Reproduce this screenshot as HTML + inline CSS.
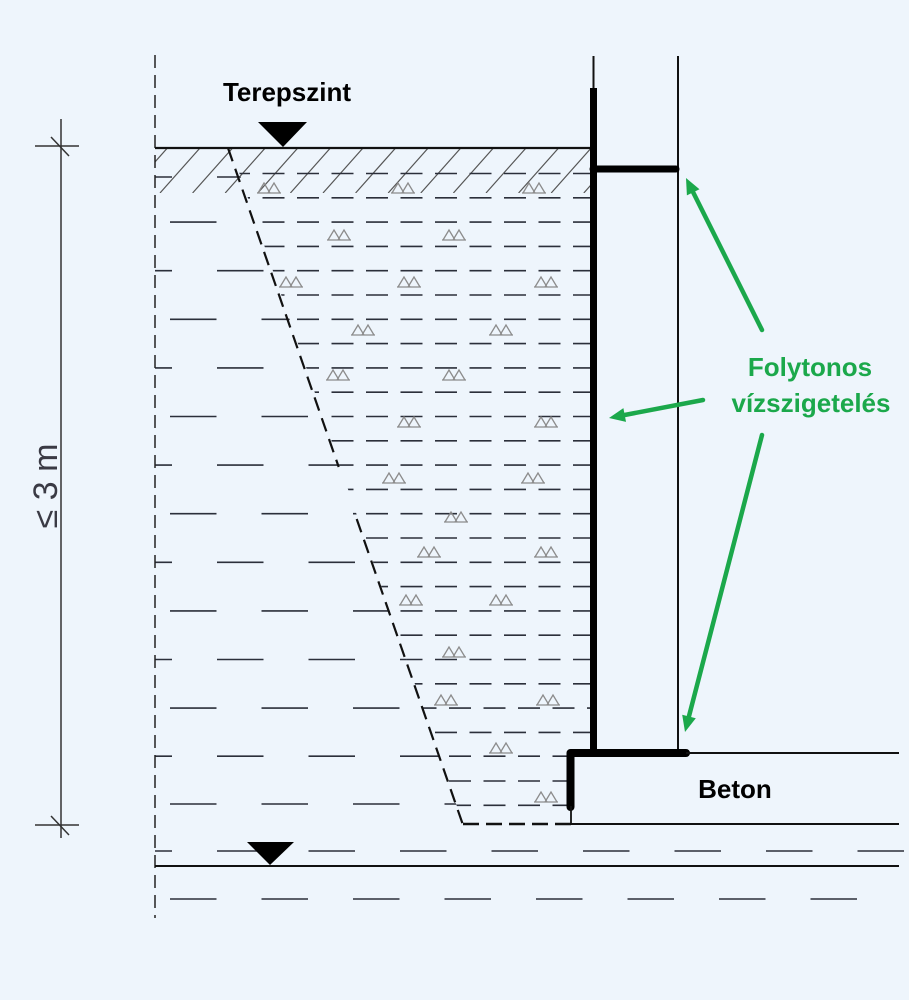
<!DOCTYPE html>
<html><head><meta charset="utf-8"><style>
html,body{margin:0;padding:0;background:#eef5fc;}
svg{display:block;}
</style></head><body>
<svg width="909" height="1000" viewBox="0 0 909 1000" xmlns="http://www.w3.org/2000/svg">
<defs>
<clipPath id="inner"><polygon points="228,140 591,140 591,749 567,749 567,824 463,824"/></clipPath>
<clipPath id="left"><polygon points="155,140 228,140 463,824 155,824"/></clipPath>
<clipPath id="hatch"><rect x="155" y="148" width="437" height="45"/></clipPath>
<g id="aa"><path d="M0,10 L6,0 L12,10 M10,10 L16,0 L22,10 M-1,10 H23" fill="none" stroke="#8c8c8c" stroke-width="1.3"/></g>
</defs>
<rect width="909" height="1000" fill="#eef5fc"/>

<!-- hatch -->
<g clip-path="url(#hatch)" stroke="#555" stroke-width="1.2">
<line x1="167.4" y1="148" x2="127.4" y2="193"/>
<line x1="200" y1="148" x2="160" y2="193"/>
<line x1="232.6" y1="148" x2="192.6" y2="193"/>
<line x1="265.2" y1="148" x2="225.2" y2="193"/>
<line x1="297.8" y1="148" x2="257.8" y2="193"/>
<line x1="330.4" y1="148" x2="290.4" y2="193"/>
<line x1="363" y1="148" x2="323" y2="193"/>
<line x1="395.6" y1="148" x2="355.6" y2="193"/>
<line x1="428.2" y1="148" x2="388.2" y2="193"/>
<line x1="460.8" y1="148" x2="420.8" y2="193"/>
<line x1="493.4" y1="148" x2="453.4" y2="193"/>
<line x1="526" y1="148" x2="486" y2="193"/>
<line x1="558.6" y1="148" x2="518.6" y2="193"/>
<line x1="591.2" y1="148" x2="551.2" y2="193"/>
<line x1="623.8" y1="148" x2="583.8" y2="193"/>
</g>

<!-- inner short dashes -->
<g clip-path="url(#inner)" stroke="#2b2f3a" stroke-width="1.6" stroke-dasharray="22 12.5">
<line x1="21" y1="173.5" x2="592" y2="173.5"/>
<line x1="21" y1="197.8" x2="592" y2="197.8"/>
<line x1="21" y1="222.1" x2="592" y2="222.1"/>
<line x1="21" y1="246.4" x2="592" y2="246.4"/>
<line x1="21" y1="270.7" x2="592" y2="270.7"/>
<line x1="21" y1="295" x2="592" y2="295"/>
<line x1="21" y1="319.3" x2="592" y2="319.3"/>
<line x1="21" y1="343.6" x2="592" y2="343.6"/>
<line x1="21" y1="367.9" x2="592" y2="367.9"/>
<line x1="21" y1="392.2" x2="592" y2="392.2"/>
<line x1="21" y1="416.5" x2="592" y2="416.5"/>
<line x1="21" y1="440.8" x2="592" y2="440.8"/>
<line x1="21" y1="465.1" x2="592" y2="465.1"/>
<line x1="21" y1="489.4" x2="592" y2="489.4"/>
<line x1="21" y1="513.7" x2="592" y2="513.7"/>
<line x1="21" y1="538" x2="592" y2="538"/>
<line x1="21" y1="562.3" x2="592" y2="562.3"/>
<line x1="21" y1="586.6" x2="592" y2="586.6"/>
<line x1="21" y1="610.9" x2="592" y2="610.9"/>
<line x1="21" y1="635.2" x2="592" y2="635.2"/>
<line x1="21" y1="659.5" x2="592" y2="659.5"/>
<line x1="21" y1="683.8" x2="592" y2="683.8"/>
<line x1="35" y1="708.1" x2="592" y2="708.1"/>
<line x1="21" y1="732.4" x2="592" y2="732.4"/>
<line x1="35" y1="756.2" x2="592" y2="756.2"/>
<line x1="35" y1="781" x2="592" y2="781"/>
<line x1="35" y1="805.3" x2="592" y2="805.3"/>
</g>

<!-- left long dashes -->
<g clip-path="url(#left)" stroke="#2b2f3a" stroke-width="1.6" stroke-dasharray="46.5 45">
<line x1="125.5" y1="177" x2="600" y2="177"/>
<line x1="170" y1="222.1" x2="600" y2="222.1"/>
<line x1="125.5" y1="270.7" x2="600" y2="270.7"/>
<line x1="170" y1="319.3" x2="600" y2="319.3"/>
<line x1="125.5" y1="367.9" x2="600" y2="367.9"/>
<line x1="170" y1="416.5" x2="600" y2="416.5"/>
<line x1="125.5" y1="465.1" x2="600" y2="465.1"/>
<line x1="170" y1="513.7" x2="600" y2="513.7"/>
<line x1="125.5" y1="562.3" x2="600" y2="562.3"/>
<line x1="170" y1="610.9" x2="600" y2="610.9"/>
<line x1="125.5" y1="659.5" x2="600" y2="659.5"/>
<line x1="170" y1="708.1" x2="600" y2="708.1"/>
<line x1="125.5" y1="756.2" x2="600" y2="756.2"/>
<line x1="170" y1="804" x2="600" y2="804"/>
</g>

<!-- bottom full-width dashed rows -->
<g stroke="#2b2f3a" stroke-width="1.6" stroke-dasharray="46.5 45">
<line x1="155" y1="851" x2="909" y2="851" stroke-dashoffset="29.5"/>
<line x1="170" y1="899" x2="858" y2="899"/>
</g>

<!-- gravel marks -->
<g>
<use href="#aa" x="258" y="183"/><use href="#aa" x="392" y="183"/><use href="#aa" x="523" y="183"/>
<use href="#aa" x="328" y="230"/><use href="#aa" x="443" y="230"/>
<use href="#aa" x="280" y="277"/><use href="#aa" x="398" y="277"/><use href="#aa" x="535" y="277"/>
<use href="#aa" x="352" y="325"/><use href="#aa" x="490" y="325"/>
<use href="#aa" x="327" y="370"/><use href="#aa" x="443" y="370"/>
<use href="#aa" x="398" y="417"/><use href="#aa" x="535" y="417"/>
<use href="#aa" x="383" y="473"/><use href="#aa" x="522" y="473"/>
<use href="#aa" x="445" y="512"/>
<use href="#aa" x="418" y="547"/><use href="#aa" x="535" y="547"/>
<use href="#aa" x="400" y="595"/><use href="#aa" x="490" y="595"/>
<use href="#aa" x="443" y="647"/>
<use href="#aa" x="435" y="695"/><use href="#aa" x="537" y="695"/>
<use href="#aa" x="490" y="743"/>
<use href="#aa" x="535" y="792"/>
</g>

<!-- left vertical dashed -->
<line x1="155" y1="55" x2="155" y2="918" stroke="#222" stroke-width="1.5" stroke-dasharray="13 7"/>

<!-- slope dashed -->
<g stroke="#111" stroke-width="2.2" stroke-dasharray="14 8">
<line x1="228" y1="148" x2="338.7" y2="467"/>
<line x1="356.7" y1="519" x2="463" y2="825"/>
</g>
<line x1="463" y1="824" x2="571" y2="824" stroke="#111" stroke-width="2.5" stroke-dasharray="16 7"/>

<!-- ground line -->
<line x1="155" y1="148" x2="593" y2="148" stroke="#111" stroke-width="2.2"/>
<polygon points="258,122 307,122 283,147" fill="#000"/>

<!-- lower water level -->
<line x1="155" y1="866" x2="899" y2="866" stroke="#111" stroke-width="2"/>
<polygon points="247,842 294,842 270,865" fill="#000"/>

<!-- wall -->
<line x1="593.5" y1="56" x2="593.5" y2="90" stroke="#111" stroke-width="2"/>
<line x1="593.5" y1="88" x2="593.5" y2="753" stroke="#000" stroke-width="7"/>
<line x1="678" y1="56" x2="678" y2="753" stroke="#111" stroke-width="2"/>
<line x1="593" y1="169" x2="676" y2="169" stroke="#000" stroke-width="7" stroke-linecap="round"/>
<path d="M570.5,807 V753 H686" fill="none" stroke="#000" stroke-width="8" stroke-linejoin="round" stroke-linecap="round"/>
<line x1="571" y1="806" x2="571" y2="824" stroke="#111" stroke-width="1.8"/>
<line x1="686" y1="753" x2="899" y2="753" stroke="#111" stroke-width="2"/>
<line x1="571" y1="824" x2="899" y2="824" stroke="#111" stroke-width="2"/>

<!-- dimension -->
<g stroke="#333" stroke-width="1.5">
<line x1="61" y1="119" x2="61" y2="838"/>
<line x1="35" y1="146" x2="79" y2="146"/>
<line x1="51" y1="137" x2="69" y2="156"/>
<line x1="35" y1="825" x2="79" y2="825"/>
<line x1="51" y1="816" x2="69" y2="835"/>
</g>
<text transform="translate(57,486) rotate(-90)" text-anchor="middle" font-family="Liberation Sans, sans-serif" font-size="34" fill="#3a3a44">≤ 3 m</text>

<!-- labels -->
<text x="287" y="101" text-anchor="middle" font-family="Liberation Sans, sans-serif" font-weight="bold" font-size="26" fill="#000">Terepszint</text>
<text x="735" y="798" text-anchor="middle" font-family="Liberation Sans, sans-serif" font-weight="bold" font-size="26" fill="#000">Beton</text>
<text x="810" y="376" text-anchor="middle" font-family="Liberation Sans, sans-serif" font-weight="bold" font-size="26" fill="#1ba84b">Folytonos</text>
<text x="811" y="412" text-anchor="middle" font-family="Liberation Sans, sans-serif" font-weight="bold" font-size="26" fill="#1ba84b">vízszigetelés</text>

<!-- green arrows -->
<g stroke="#1ba84b" stroke-width="4.5" stroke-linecap="round">
<line x1="762" y1="330" x2="692" y2="190"/>
<line x1="703" y1="400" x2="622" y2="415.5"/>
<line x1="762" y1="435" x2="688" y2="720"/>
</g>
<g fill="#1ba84b">
<polygon points="686,178 699.5,189.2 686.9,195.4"/>
<polygon points="609,418 626,421.9 623.4,408.1"/>
<polygon points="685,732 695.8,718.3 682.2,714.7"/>
</g>
</svg>
</body></html>
